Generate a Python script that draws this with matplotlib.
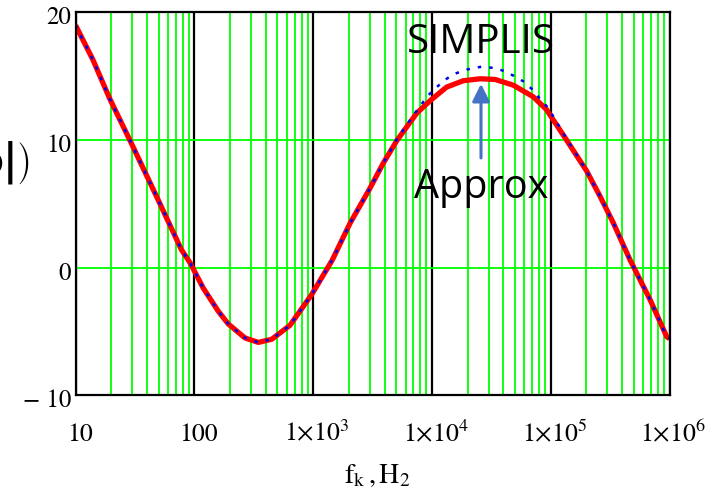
"""Bode magnitude: SIMPLIS vs approximation (Mathcad-style plot)."""

import matplotlib
matplotlib.use("Agg")
import matplotlib.pyplot as plt
from matplotlib.ticker import LogLocator, NullFormatter, FixedLocator
from matplotlib.transforms import ScaledTranslation

# ── Data ────────────────────────────────────────────────────────────────
freq_approx = [10, 14, 19.5, 29, 48, 78, 92, 119, 159, 193, 267, 346, 449,
               640, 973, 1450, 2050, 3000, 3900, 5100, 7450, 9700, 13300,
               18400, 25400, 34000, 48400, 71000, 92000, 136000, 200000,
               260000, 337000, 466000, 686000, 947000, 1e6]
gain_approx = [19.0, 16.3, 13.2, 9.9, 5.6, 1.4, 0.4, -1.6, -3.4, -4.4, -5.5,
               -5.85, -5.6, -4.5, -2.1, 0.6, 3.5, 6.2, 8.2, 10.0, 12.1, 13.1,
               14.15, 14.65, 14.8, 14.75, 14.3, 13.4, 12.4, 10.0, 7.6, 5.6,
               3.5, 0.6, -2.5, -5.4, -5.55]

freq_simplis = [10, 14, 19.5, 29, 48, 78, 92, 119, 159, 193, 267, 346, 449,
                640, 973, 1450, 2050, 3000, 3900, 5100, 7450, 9300, 11300,
                13300, 15600, 20200, 26200, 33000, 41000, 48400, 58800,
                70500, 80100, 95500, 136000, 200000, 260000, 337000, 466000,
                686000, 947000, 1e6]
gain_simplis = [19.0, 16.3, 13.2, 9.9, 5.6, 1.4, 0.4, -1.6, -3.4, -4.4, -5.5,
                -5.85, -5.6, -4.5, -2.1, 0.6, 3.5, 6.2, 8.2, 10.1, 12.3, 13.5,
                14.25, 14.8, 15.2, 15.55, 15.75, 15.65, 15.4, 15.05, 14.6,
                13.95, 13.3, 12.5, 10.1, 7.6, 5.6, 3.5, 0.6, -2.5, -5.4, -5.55]

x_ticks = [10, 100, 1e3, 1e4, 1e5, 1e6]
x_tick_labels = ["10", "100", r"$1{\times}10^{3}$", r"$1{\times}10^{4}$",
                 r"$1{\times}10^{5}$", r"$1{\times}10^{6}$"]
y_ticks = [-10, 0, 10, 20]
y_tick_labels = ["\u2212 10", "0", "10", "20"]

plt.rcParams["mathtext.fontset"] = "stix"
plt.rcParams["font.family"] = ["STIXGeneral", "DejaVu Sans"]

W, H = 714, 492
fig = plt.figure(figsize=(W / 100, H / 100), dpi=100)
ax = fig.add_axes([75.5 / W, 1 - 395.4 / H, 594 / W, 383 / H])

ax.set_xscale("log")
ax.set_xlim(10, 1e6)
ax.set_ylim(-10, 20)

# grid: green minors + green horizontals, black decades
ax.xaxis.set_major_locator(FixedLocator(x_ticks))
ax.xaxis.set_minor_locator(LogLocator(base=10, subs=range(2, 10), numticks=20))
ax.xaxis.set_minor_formatter(NullFormatter())
ax.grid(which="minor", axis="x", color="#00ff00", lw=1.3, zorder=1)
ax.grid(which="major", axis="y", color="#00ff00", lw=1.3, zorder=1)
ax.grid(which="major", axis="x", color="black", lw=1.6, zorder=1)
ax.set_axisbelow(True)

ax.plot(freq_approx, gain_approx, color="red", lw=3.8, zorder=3,
        solid_capstyle="butt")
ax.plot(freq_simplis, gain_simplis, color="#0000ee", lw=1.8, zorder=4,
        linestyle=(0, (1.4, 3.2)))

for sp in ax.spines.values():
    sp.set_linewidth(1.6)
    sp.set_color("black")
    sp.set_zorder(5)

ax.set_xticks(x_ticks)
ax.set_xticklabels(x_tick_labels)
ax.set_yticks(y_ticks)
ax.set_yticklabels(y_tick_labels)
ax.tick_params(which="both", length=0)
ax.tick_params(axis="x", pad=33, labelsize=18.5)
ax.tick_params(axis="y", pad=3, labelsize=18)
shift = ScaledTranslation(4 / 100, 0, fig.dpi_scale_trans)
for lab in ax.get_xticklabels():
    lab.set_va("baseline")
    lab.set_transform(lab.get_transform() + shift)
yshift = ScaledTranslation(0, -3 / 100, fig.dpi_scale_trans)
for lab in ax.get_yticklabels():
    lab.set_transform(lab.get_transform() + yshift)

# axis labels (Mathcad style)
fig.text(377 / W, 1 - 483 / H, r"$\mathrm{f_k\,,H_2}$", ha="center",
         va="baseline", fontsize=20)
fig.text(29 / W, 1 - 163 / H,
         r"$20\,\log\left(\left|\frac{V_o}{V_i}(j\omega)\right|\right)$",
         ha="right", va="center", fontsize=21)

# annotations
fig.text(481 / W, 1 - 53 / H, "SIMPLIS", ha="center", va="baseline",
         fontsize=29, family="Open Sans")
fig.text(481 / W, 1 - 198 / H, "Approx", ha="center", va="baseline",
         fontsize=28.5, family="Open Sans")
ax.annotate("", xy=(25900, 14.4), xytext=(25900, 8.6),
            arrowprops=dict(arrowstyle="-|>,head_length=0.48,head_width=0.24",
                            color="#4472C4", lw=2.2, mutation_scale=22,
                            shrinkA=0, shrinkB=0), zorder=6)

fig.savefig("out.png", dpi=100)
